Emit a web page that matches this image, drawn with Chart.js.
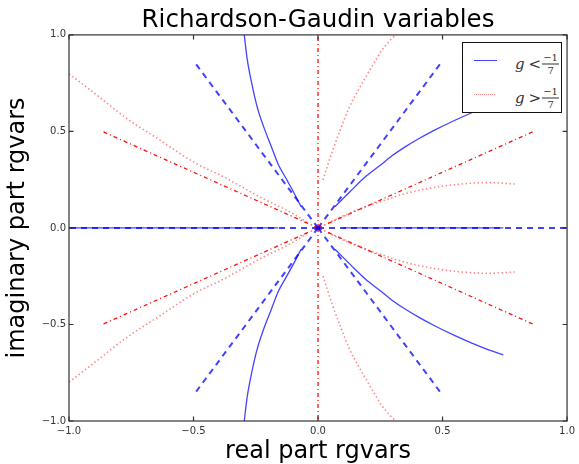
<!DOCTYPE html>
<html>
<head>
<meta charset="utf-8">
<script src="https://cdn.jsdelivr.net/npm/chart.js@4/dist/chart.umd.min.js"></script>
<style>
  html, body { margin: 0; padding: 0; background: #fff; }
  #wrap { position: relative; width: 579px; height: 464px; }
  #legend { position: absolute; left: 462px; top: 42px; width: 100px; height: 71px; box-sizing: border-box;
            background: #fff; border: 1px solid #111; }
  #legend .ln { position: absolute; height: 0; }
  #legend .m { position: absolute; display: flex; align-items: center; transform: translateY(-50%);
               font-family: 'DejaVu Serif', serif; font-size: 15px; line-height: 1; color: #333; }
  #legend .m i { font-style: italic; }
  #legend .rel { margin: 0 1px 0 4px; }
  #legend .fr { display: inline-flex; flex-direction: column; align-items: center; font-size: 10px; line-height: 1; }
  #legend .nu { border-bottom: 0.9px solid #333; padding: 0 1px 1px 1px; }
  #legend .de { padding-top: 1px; }
</style>
</head>
<body>
<div id="wrap">
  <canvas id="c" width="579" height="464"></canvas>
  <div id="legend">
    <span class="ln" style="left:11px;top:16.5px;width:23px;border-top:1.5px solid rgba(20,20,255,0.8);"></span>
    <div class="m" style="left:52px;top:21px;"><i>g</i><span class="rel">&lt;</span><span class="fr"><span class="nu">−1</span><span class="de">7</span></span></div>
    <span class="ln" style="left:11px;top:50.5px;width:21px;border-top:1.5px dotted rgba(255,40,40,0.55);"></span>
    <div class="m" style="left:52px;top:55px;"><i>g</i><span class="rel">&gt;</span><span class="fr"><span class="nu">−1</span><span class="de">7</span></span></div>
  </div>
</div>
<script>
// ---- axes ----
const xTickValues = [-1.0, -0.5, 0.0, 0.5, 1.0];
const xTickLabels = ['−1.0', '−0.5', '0.0', '0.5', '1.0'];
const yTickValues = [-1.0, -0.5, 0.0, 0.5, 1.0];
const yTickLabels = ['−1.0', '−0.5', '0.0', '0.5', '1.0'];

// ---- straight rays from the origin ----
const blueRayX = [1.0, 0.5, -0.5, -1.0, -0.5, 0.5];
const blueRayY = [0.0, 0.866, 0.866, 0.0, -0.866, -0.866];
const redRayX  = [0.866, 0.0, -0.866, -0.866, 0.0, 0.866];
const redRayY  = [0.5, 1.0, 0.5, -0.5, -1.0, -0.5];

// ---- blue solid trajectories (g < -1/7) ----
const blueLeftX    = [-0.298, -0.285, -0.268, -0.245, -0.22, -0.19, -0.16, -0.13, -0.10, -0.068];
const blueUpLeftY  = [1.02, 0.88, 0.76, 0.63, 0.53, 0.43, 0.33, 0.26, 0.19, 0.11];
const blueLowLeftY = [-1.02, -0.88, -0.76, -0.63, -0.53, -0.43, -0.33, -0.26, -0.19, -0.11];
const blueRightX    = [0.068, 0.13, 0.191, 0.25, 0.297, 0.35, 0.404, 0.47, 0.55, 0.62, 0.68, 0.744];
const blueUpRightY  = [0.11, 0.19, 0.266, 0.325, 0.374, 0.42, 0.462, 0.508, 0.558, 0.598, 0.629, 0.658];
const blueLowRightY = [-0.11, -0.19, -0.266, -0.325, -0.374, -0.42, -0.462, -0.508, -0.558, -0.598, -0.629, -0.658];
const blueAxisLeftX  = [-1.0, -0.16];
const blueAxisRightX = [0.10, 0.744];
const blueAxisY      = [0.0, 0.0];

// ---- red dotted trajectories (g > -1/7) ----
const pinkLeftX    = [-1.0, -0.90, -0.769, -0.636, -0.503, -0.369, -0.236, -0.103, -0.04];
const pinkUpLeftY  = [0.798, 0.70, 0.568, 0.456, 0.344, 0.258, 0.162, 0.076, 0.025];
const pinkLowLeftY = [-0.798, -0.70, -0.568, -0.456, -0.344, -0.258, -0.162, -0.076, -0.025];
const pinkVertX    = [0.02, 0.057, 0.09, 0.124, 0.16, 0.191, 0.225, 0.257, 0.285, 0.311];
const pinkTopY     = [0.249, 0.395, 0.51, 0.62, 0.71, 0.78, 0.855, 0.922, 0.965, 1.0];
const pinkBottomY  = [-0.249, -0.395, -0.51, -0.62, -0.71, -0.78, -0.855, -0.922, -0.965, -1.0];
const pinkRightX    = [0.04, 0.10, 0.17, 0.244, 0.324, 0.444, 0.577, 0.684, 0.79];
const pinkUpRightY  = [0.025, 0.062, 0.10, 0.133, 0.168, 0.205, 0.228, 0.235, 0.228];
const pinkLowRightY = [-0.025, -0.062, -0.10, -0.133, -0.168, -0.205, -0.228, -0.235, -0.228];

// ---- centre marker ----
const centreX = [0.0];
const centreY = [0.0];

const pts = (xs, ys) => xs.map((x, i) => ({ x: x, y: ys[i] }));

const blueSolid = { borderColor: 'rgba(20,20,255,0.8)', borderWidth: 1.3, cubicInterpolationMode: 'monotone' };
const blueDash  = { borderColor: 'rgba(0,0,255,0.75)', borderWidth: 2, borderDash: [6, 5], tension: 0 };
const redDashDot = { borderColor: 'rgba(255,0,0,0.95)', borderWidth: 1.3, borderDash: [4, 3, 1, 3], tension: 0 };
const pinkDot   = { borderColor: 'rgba(255,40,40,0.55)', borderWidth: 1.6, borderDash: [1.5, 2.5], cubicInterpolationMode: 'monotone' };

const datasets = [];
const add = (label, data, style) => datasets.push(Object.assign({
  label: label, data: data, showLine: true, pointRadius: 0, pointHoverRadius: 0, fill: false
}, style));

blueRayX.forEach((x, i) => add('ray', [{ x: 0, y: 0 }, { x: x, y: blueRayY[i] }], blueDash));
redRayX.forEach((x, i) => add('ray', [{ x: 0, y: 0 }, { x: x, y: redRayY[i] }], redDashDot));

add('g<−1/7', pts(blueLeftX, blueUpLeftY), blueSolid);
add('g<−1/7', pts(blueLeftX, blueLowLeftY), blueSolid);
add('g<−1/7', pts(blueRightX, blueUpRightY), blueSolid);
add('g<−1/7', pts(blueRightX, blueLowRightY), blueSolid);
add('g<−1/7', pts(blueAxisLeftX, blueAxisY), blueSolid);
add('g<−1/7', pts(blueAxisRightX, blueAxisY), blueSolid);

add('g>−1/7', pts(pinkLeftX, pinkUpLeftY), pinkDot);
add('g>−1/7', pts(pinkLeftX, pinkLowLeftY), pinkDot);
add('g>−1/7', pts(pinkVertX, pinkTopY), pinkDot);
add('g>−1/7', pts(pinkVertX, pinkBottomY), pinkDot);
add('g>−1/7', pts(pinkRightX, pinkUpRightY), pinkDot);
add('g>−1/7', pts(pinkRightX, pinkLowRightY), pinkDot);

datasets.push({
  label: 'centre', data: pts(centreX, centreY), showLine: false,
  pointStyle: 'crossRot', pointRadius: 3.5, pointBorderColor: '#ff0000', pointBorderWidth: 1.5
});

const framePlugin = {
  id: 'frame',
  afterDatasetsDraw(chart) {
    const { ctx, chartArea: a, scales } = chart;
    const L = 4.5;
    ctx.save();
    ctx.strokeStyle = '#333';
    ctx.lineWidth = 1.2;
    ctx.strokeRect(a.left, a.top, a.right - a.left, a.bottom - a.top);
    ctx.beginPath();
    xTickValues.forEach(v => {
      const p = scales.x.getPixelForValue(v);
      ctx.moveTo(p, a.bottom); ctx.lineTo(p, a.bottom - L);
      ctx.moveTo(p, a.top); ctx.lineTo(p, a.top + L);
    });
    yTickValues.forEach(v => {
      const p = scales.y.getPixelForValue(v);
      ctx.moveTo(a.left, p); ctx.lineTo(a.left + L, p);
      ctx.moveTo(a.right, p); ctx.lineTo(a.right - L, p);
    });
    ctx.stroke();
    ctx.restore();
  }
};

const tickFont = { family: 'DejaVu Sans', size: 10 };

new Chart(document.getElementById('c'), {
  type: 'scatter',
  data: { datasets: datasets },
  options: {
    responsive: false,
    animation: false,
    devicePixelRatio: 1,
    layout: { padding: { left: 0, right: 10, top: 0, bottom: 0 } },
    plugins: {
      legend: { display: false },
      tooltip: { enabled: false },
      title: {
        display: true, fullSize: false, text: 'Richardson-Gaudin variables', color: '#000',
        font: { family: 'DejaVu Sans', size: 24.5, weight: 'normal', lineHeight: 1.2 },
        padding: { top: 5.5, bottom: 0 }
      }
    },
    scales: {
      x: {
        type: 'linear', min: -1, max: 1,
        afterBuildTicks: s => { s.ticks = xTickValues.map(v => ({ value: v })); },
        afterFit: s => { s.height = 43; },
        ticks: { callback: (v, i) => xTickLabels[i], font: tickFont, color: '#333', padding: 4,
                 autoSkip: false, maxRotation: 0, minRotation: 0 },
        grid: { display: false, drawTicks: false },
        border: { display: false },
        title: { display: true, text: 'real part rgvars', color: '#000',
                 font: { family: 'DejaVu Sans', size: 24, lineHeight: 1 }, padding: { top: 0, bottom: 0 } }
      },
      y: {
        type: 'linear', min: -1, max: 1,
        afterBuildTicks: s => { s.ticks = yTickValues.map(v => ({ value: v })); },
        afterFit: s => { s.width = 69; },
        ticks: { callback: (v, i) => yTickLabels[i], font: tickFont, color: '#333', padding: 3, autoSkip: false },
        grid: { display: false, drawTicks: false },
        border: { display: false },
        title: { display: true, text: 'imaginary part rgvars', color: '#000',
                 font: { family: 'DejaVu Sans', size: 24, lineHeight: 1.2 }, padding: { top: 3.5, bottom: 0 } }
      }
    }
  },
  plugins: [framePlugin]
});
</script>
</body>
</html>
